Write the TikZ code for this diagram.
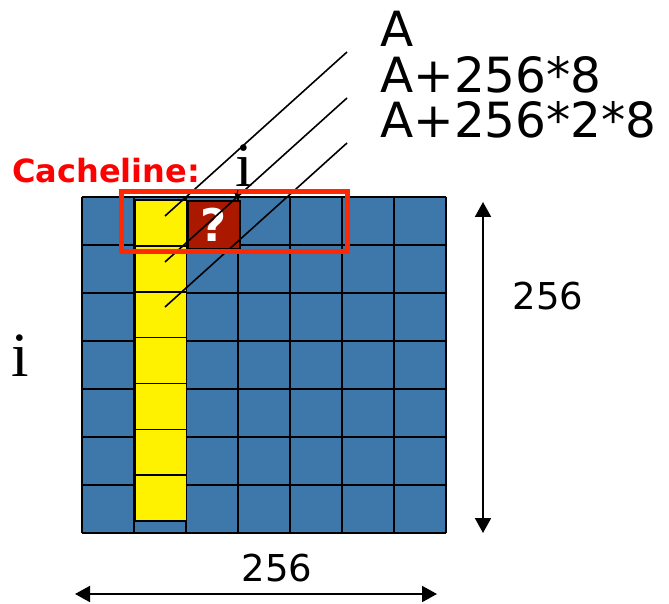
\documentclass[tikz,border=0pt]{standalone}
\usepackage{fontspec}
\setmainfont{DejaVu Sans}
\newfontfamily\serifi{Liberation Serif}
\usetikzlibrary{arrows.meta}
\definecolor{gridblue}{RGB}{62,120,170}
\definecolor{cellred}{RGB}{170,24,0}
\definecolor{boxred}{RGB}{255,40,0}
\definecolor{textred}{RGB}{255,0,0}
\tikzset{
  gridline/.style={line width=2pt, black},
  ycell/.style={fill=yellow, draw=black, line width=1.6pt},
  qcell/.style={fill=cellred, draw=black, line width=1.6pt},
  diag/.style={line width=1.6pt, black},
  cachebox/.style={draw=boxred, line width=5pt},
  dimarrow/.style={line width=2pt, {Triangle[length=15pt,width=16pt]}-{Triangle[length=15pt,width=16pt]}},
  addr/.style={anchor=base west, inner sep=0pt, text height=35pt, text depth=0pt, font=\fontsize{48.5}{50}\selectfont},
  dimlabel/.style={inner sep=0pt, font=\fontsize{37}{40}\selectfont},
  ilabel/.style={anchor=base, inner sep=0pt, font=\serifi\fontsize{63}{65}\selectfont}
}
\begin{document}
\begin{tikzpicture}[x=1pt,y=-1pt]
\useasboundingbox (0,0) rectangle (669,604);
% grid
\fill[gridblue] (82,197) rectangle (446,533);
\foreach \i in {0,...,7} \draw[gridline] ({82+52*\i},197) -- ({82+52*\i},533);
\foreach \j in {0,...,7} \draw[gridline] (82,{197+48*\j}) -- (446,{197+48*\j});
% yellow column
\foreach \k in {0,...,6} \draw[ycell] (135.5,{200+45.86*\k}) rectangle (186.5,{200+45.86*(\k+1)});
% question cell
\node[qcell, minimum width=52pt, minimum height=47pt, inner sep=0pt, anchor=north west,
      text=white, font=\bfseries\fontsize{45}{45}\selectfont] (q) at (187,200.5) {?};
% diagonal lines
\coordinate (d1a) at (165,216); \coordinate (d1b) at (347,52);
\coordinate (d2a) at (165,262); \coordinate (d2b) at (347,98);
\coordinate (d3a) at (165,307); \coordinate (d3b) at (347,143);
\draw[diag] (d1a) -- (d1b);
\draw[diag] (d2a) -- (d2b);
\draw[diag] (d3a) -- (d3b);
% cacheline box
\draw[cachebox] (121.5,191.5) rectangle (347.5,251.5);
\node[anchor=base west, inner sep=0pt, text=textred, font=\bfseries\fontsize{32}{34}\selectfont] (cl) at (12,183) {Cacheline:};
% address labels
\node[addr] (a0) at (380,46.7) {A};
\node[addr] (a1) at (380,92.3) {A+256*8};
\node[addr] (a2) at (380,137.7) {A+256*2*8};
% i labels
\node[ilabel] (itop) at (244,187) {i};
\node[ilabel] (ileft) at (20,376) {i};
\coordinate (ip) at (238,190); \coordinate (iq) at (236,197.5);
\draw[line width=1pt, -{Triangle[length=4pt,width=5pt]}] (ip) -- (iq);
% dimensions
\coordinate (vt) at (483,202); \coordinate (vb) at (483,533);
\draw[dimarrow] (vt) -- (vb);
\node[dimlabel] (v256) at (548,296) {256};
\coordinate (hl) at (75,594); \coordinate (hr) at (437,594);
\draw[dimarrow] (hl) -- (hr);
\node[dimlabel] (h256) at (277,568) {256};
\end{tikzpicture}
\end{document}
